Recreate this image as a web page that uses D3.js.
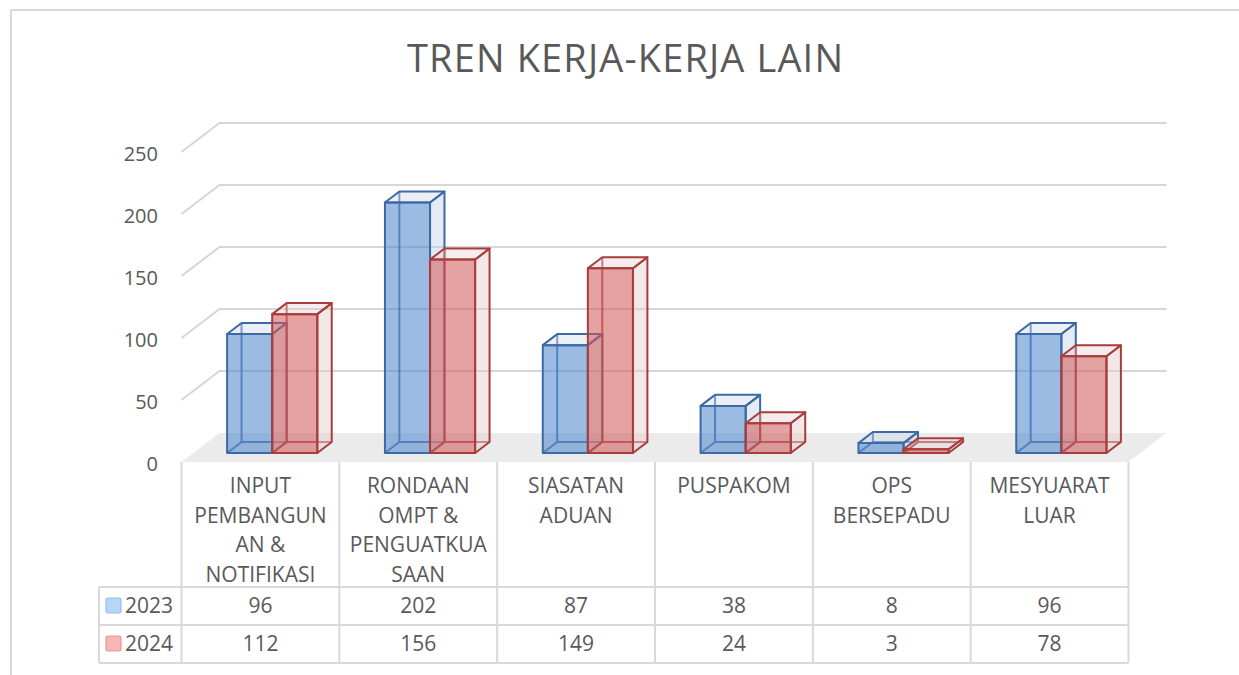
<!DOCTYPE html>
<html>
<head>
<meta charset="utf-8">
<script src="https://cdn.jsdelivr.net/npm/d3@7"></script>
<style>
  body { margin: 0; background: #fff; }
  svg { display: block; font-family: "Open Sans", sans-serif; }
  .lbl { fill: #595959; }
</style>
</head>
<body>
<svg id="chart" width="1239" height="675"></svg>
<script>
let categories = ['INPUT PEMBANGUNAN & NOTIFIKASI', 'RONDAAN OMPT & PENGUATKUASAAN', 'SIASATAN ADUAN', 'PUSPAKOM', 'OPS BERSEPADU', 'MESYUARAT LUAR'];
let categoryLines = [
  ['INPUT', 'PEMBANGUN', 'AN &', 'NOTIFIKASI'],
  ['RONDAAN', 'OMPT &', 'PENGUATKUA', 'SAAN'],
  ['SIASATAN', 'ADUAN'],
  ['PUSPAKOM'],
  ['OPS', 'BERSEPADU'],
  ['MESYUARAT', 'LUAR']
];
let series = ['2023', '2024'];
let values2023 = [96, 202, 87, 38, 8, 96];
let values2024 = [112, 156, 149, 24, 3, 78];
let yTicks = [0, 50, 100, 150, 200, 250];

let colors = {
  '2023': {front: '#4f86cc', side: '#c5d3e6', stroke: '#3d69a6', swatch: '#b7d5f6', swatchStroke: '#9cc0e8'},
  '2024': {front: '#d05a5a', side: '#e2cccc', stroke: '#a93c3c', swatch: '#f7b5b5', swatchStroke: '#e29a9a'}
};

let svg = d3.select('#chart');

// depth of the 3d floor
let DX = 38, DY = 29;
let x0 = 181.5, x1 = 1128.5;

let sx = d3.scaleBand().domain(categories).range([x0, x1]);
let sy = d3.scaleLinear().domain([0, 250]).range([462, 152]);
let bw = sx.bandwidth() / 3.5;
let ss = d3.scaleBand().domain(series).range([0, 2 * bw]);

function P(x, v, z) {
  return [x + z * DX, sy(v) - z * DY];
}

let rows = series.map((s, i) => ({key: s, values: i === 0 ? values2023 : values2024}));

// outer frame
svg.append('rect')
  .attr('x', 11).attr('y', 10).attr('width', 1260).attr('height', 700)
  .attr('fill', 'none').attr('stroke', '#d9d9d9').attr('stroke-width', 2);

// title
svg.append('text')
  .attr('class', 'lbl')
  .attr('x', 625).attr('y', 72)
  .attr('text-anchor', 'middle')
  .attr('textLength', 436)
  .attr('lengthAdjust', 'spacing')
  .style('font-size', '38px')
  .text('TREN KERJA-KERJA LAIN');

// floor
let floor = [P(x0, 0, 0), P(x1, 0, 0), P(x1, 0, 1), P(x0, 0, 1)];
svg.append('polygon')
  .attr('points', floor.map(p => p.join(',')).join(' '))
  .attr('fill', '#ebebeb');

// grid
let grid = svg.append('g').attr('class', 'grid');
grid.selectAll('.gb')
  .data(yTicks.filter(d => d > 0))
  .enter().append('polyline')
    .attr('points', d => [P(x0, d, 0), P(x0, d, 1), P(x1, d, 1)].map(p => p.join(',')).join(' '))
    .attr('fill', 'none')
    .attr('stroke', '#d6d6d6')
    .attr('stroke-width', 2);

// y axis labels
svg.append('g').selectAll('text')
  .data(yTicks)
  .enter().append('text')
    .attr('class', 'lbl')
    .attr('x', 158)
    .attr('y', d => sy(d) + 2)
    .attr('dy', '0.35em')
    .attr('text-anchor', 'end')
    .style('font-size', '20px')
    .text(d => d);

// bars
let z0 = 0.31, z1 = 0.69;
let bars = [];
categories.forEach((c, ci) => {
  rows.forEach(r => {
    let xl = sx(c) + (sx.bandwidth() - 2 * bw) / 2 + ss(r.key);
    bars.push({cat: c, key: r.key, value: r.values[ci], xl: xl, xr: xl + bw});
  });
});

function pts(arr) { return arr.map(p => p.join(',')).join(' '); }

let g = svg.append('g').attr('class', 'bars');
bars.forEach(b => {
  let col = colors[b.key];
  let v = b.value;
  let fbl = P(b.xl, 0, z0), fbr = P(b.xr, 0, z0), ftl = P(b.xl, v, z0), ftr = P(b.xr, v, z0);
  let bbl = P(b.xl, 0, z1), bbr = P(b.xr, 0, z1), btl = P(b.xl, v, z1), btr = P(b.xr, v, z1);
  let bar = g.append('g').attr('stroke', col.stroke).attr('stroke-width', 2).attr('stroke-linejoin', 'round');
  // hidden edges
  bar.append('polyline').attr('points', pts([btl, bbl, bbr])).attr('fill', 'none').attr('stroke-opacity', 0.85);
  bar.append('line').attr('x1', fbl[0]).attr('y1', fbl[1]).attr('x2', bbl[0]).attr('y2', bbl[1]).attr('stroke-opacity', 0.85);
  // right face
  bar.append('polygon').attr('points', pts([fbr, bbr, btr, ftr])).attr('fill', col.side).attr('fill-opacity', 0.45);
  // top face
  bar.append('polygon').attr('points', pts([ftl, ftr, btr, btl])).attr('fill', col.side).attr('fill-opacity', 0.35);
  // front face
  bar.append('polygon').attr('points', pts([fbl, fbr, ftr, ftl])).attr('fill', col.front).attr('fill-opacity', 0.56);
});

// data table
let tableTop = 462, hdrBottom = 587, rowH = 38, tableLeft = 99;
let tbl = svg.append('g').attr('stroke', '#d9d9d9').attr('stroke-width', 2);
let colEdges = categories.map(c => sx(c)).concat([x1]);
tbl.selectAll('.v').data(colEdges).enter().append('line')
  .attr('x1', d => d).attr('x2', d => d)
  .attr('y1', tableTop).attr('y2', hdrBottom + rowH * 2);
tbl.append('line').attr('x1', tableLeft).attr('x2', tableLeft).attr('y1', hdrBottom).attr('y2', hdrBottom + rowH * 2);
tbl.selectAll('.h').data([0, 1, 2]).enter().append('line')
  .attr('x1', tableLeft).attr('x2', x1)
  .attr('y1', d => hdrBottom + d * rowH).attr('y2', d => hdrBottom + d * rowH);

// category labels
let catG = svg.append('g');
categories.forEach((c, ci) => {
  catG.selectAll(null).data(categoryLines[ci]).enter().append('text')
    .attr('class', 'lbl')
    .attr('x', sx(c) + sx.bandwidth() / 2)
    .attr('y', (d, i) => 493 + i * 29.5)
    .attr('text-anchor', 'middle')
    .style('font-size', '21px')
    .text(d => d);
});

// value rows + legend keys
rows.forEach((r, ri) => {
  let yb = hdrBottom + ri * rowH;
  let col = colors[r.key];
  svg.append('rect')
    .attr('x', 106).attr('y', yb + 11).attr('width', 15).attr('height', 15)
    .attr('rx', 1.5)
    .attr('fill', col.swatch).attr('stroke', col.swatchStroke).attr('stroke-width', 1.2);
  svg.append('text')
    .attr('class', 'lbl')
    .attr('x', 125).attr('y', yb + 26)
    .style('font-size', '21px')
    .text(r.key);
  svg.append('g').selectAll('text')
    .data(r.values)
    .enter().append('text')
      .attr('class', 'lbl')
      .attr('x', (d, i) => sx(categories[i]) + sx.bandwidth() / 2)
      .attr('y', yb + 26)
      .attr('text-anchor', 'middle')
      .style('font-size', '21px')
      .text(d => d);
});
</script>
</body>
</html>
